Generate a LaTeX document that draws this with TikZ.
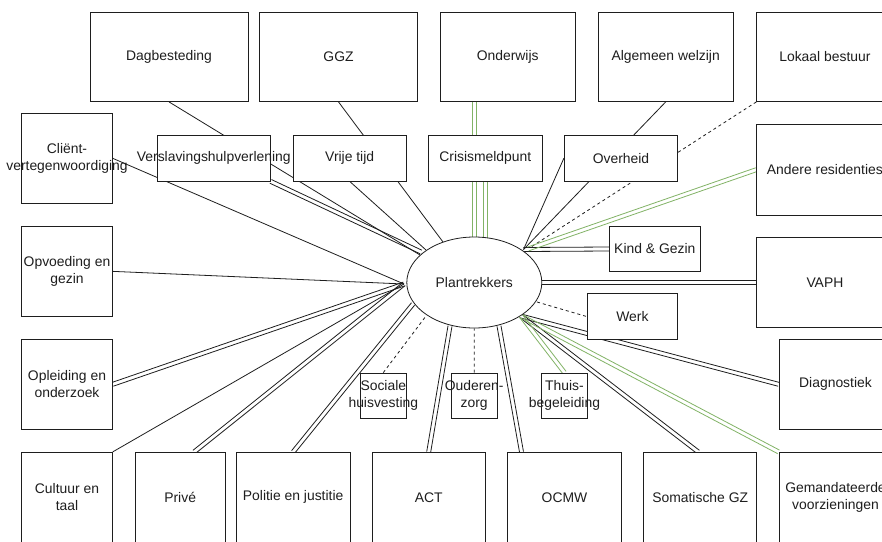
\documentclass[tikz,border=0pt]{standalone}
\usepackage{fontspec}
\setmainfont{Liberation Sans}
\usetikzlibrary{calc,shapes.geometric}
\definecolor{lgreen}{HTML}{82B366}
\definecolor{ink}{HTML}{1E1E1E}
\pgfdeclarelayer{bg}
\pgfdeclarelayer{paper}
\pgfsetlayers{paper,bg,main}
\newcommand\dlink[3][ln]{%
  \draw[#1] ($(#2)!2pt!90:(#3)$) -- ($(#3)!2pt!-90:(#2)$);
  \draw[#1] ($(#2)!2pt!-90:(#3)$) -- ($(#3)!2pt!90:(#2)$);}
\newcommand\boxnode[6]{%
  \node[bx, minimum width=#4pt, minimum height=#5pt] (#1) at (#2,#3) {};
  \node[txt] (#1t) at (#1.center) {#6};}
\begin{document}
\begin{tikzpicture}[x=1pt,y=-1pt,
  bx/.style={draw=ink, fill=white, line width=0.8pt, inner sep=0pt},
  txt/.style={font=\fontsize{13.9}{16.7}\selectfont, align=center, inner sep=0pt, text=ink},
  ln/.style={draw=ink, line width=0.8pt},
  dsh/.style={draw=ink, line width=0.8pt, dash pattern=on 3pt off 3pt},
  gln/.style={draw=lgreen, line width=0.8pt}]
\useasboundingbox (0,0) rectangle (882,541);
\begin{pgfonlayer}{paper}
\fill[white] (0,0) rectangle (882,541);
\end{pgfonlayer}
\clip (0,0) rectangle (882,541);

% top row
\boxnode{dag}{169}{56.75}{158}{89.5}{Dagbesteding}
\boxnode{ggz}{338.5}{56.75}{158.4}{89.5}{GGZ}
\boxnode{ond}{507.7}{56.75}{135.4}{89.5}{Onderwijs}
\boxnode{alg}{665.7}{56.75}{135.4}{89.5}{Algemeen welzijn}
\boxnode{lok}{824.9}{56.75}{136.3}{89.5}{Lokaal bestuur}
% second row
\boxnode{ver}{213.8}{158.15}{113}{45.7}{Verslavingshulpverlening}
\boxnode{vri}{349.7}{158.15}{113.3}{45.7}{Vrije tijd}
\boxnode{cri}{485.3}{158.15}{113.3}{45.7}{Crisismeldpunt}
\boxnode{ovh}{621}{158.15}{113.4}{45.7}{Overheid}
% left column
\boxnode{cli}{67}{158.3}{90.6}{90}{Cliënt-\\vertegenwoordiging}
\boxnode{opv}{67}{271.35}{90.6}{90.7}{Opvoeding en\\gezin}
\boxnode{opl}{67}{384.3}{90.6}{90}{Opleiding en\\onderzoek}
% bottom row
\boxnode{cul}{67}{497.3}{90.6}{90}{Cultuur en\\taal}
\boxnode{pri}{180.15}{497.3}{90.3}{90}{Privé}
\boxnode{pol}{293.15}{497.3}{113.7}{90}{Politie en justitie}
\boxnode{act}{428.7}{497.3}{113.5}{90}{ACT}
\boxnode{ocm}{564.5}{497.3}{113.6}{90}{OCMW}
\boxnode{som}{700.2}{497.3}{113}{90}{Somatische GZ}
\boxnode{gem}{835.5}{497.3}{113}{90}{Gemandateerde\\voorzieningen}
% right column
\boxnode{and}{824.9}{169.65}{136.3}{90.7}{Andere residenties}
\boxnode{vap}{824.9}{282.5}{136.3}{90.4}{VAPH}
\boxnode{dia}{835.5}{384.3}{113}{90}{Diagnostiek}
% small boxes
\boxnode{kin}{654.8}{249}{91}{45.4}{Kind \& Gezin}
\boxnode{wer}{632.35}{316.5}{90.7}{45.6}{Werk}
\boxnode{soc}{383.3}{395.5}{46}{45}{Sociale\\huisvesting}
\boxnode{oud}{474.15}{395.5}{45.7}{45}{Ouderen-\\zorg}
\boxnode{thu}{564.5}{395.5}{45.6}{45}{Thuis-\\begeleiding}
% centre
\node[bx, ellipse, minimum width=135pt, minimum height=91pt] (pl) at (474.3,282.5) {};
\node[txt] (plt) at (pl.center) {Plantrekkers};

% connector end points
\coordinate (eL) at (404,284);
\coordinate (eDag) at (420,255);
\coordinate (eGgz) at (443,242);
\coordinate (eVer) at (421,252);
\coordinate (eVri) at (426,250);
\coordinate (eOnd) at (474.2,237);
\coordinate (eCri) at (485.3,238);
\coordinate (eUR) at (523.5,249.5);
\coordinate (eAnd) at (528,249);
\coordinate (eLok) at (531,247);
\coordinate (ePol) at (413,304);
\coordinate (eSoc) at (426,316);
\coordinate (eAct) at (450,326);
\coordinate (eOcm) at (499,326);
\coordinate (eLR) at (521,316);
\coordinate (eWer) at (537,302);
\coordinate (ondS) at ([xshift=-33.5pt]ond.south);
\coordinate (priN) at ([xshift=14pt]pri.north);
\coordinate (ocmN) at ([xshift=-43pt]ocm.north);
\coordinate (somN) at ([xshift=-2pt]som.north);

\begin{pgfonlayer}{bg}
\draw[ln] (dag.south) -- (eDag);
\draw[ln] (ggz.south) -- (eGgz);
\dlink[gln]{ondS}{eOnd}
\dlink[gln]{cri.south}{eCri}
\dlink{ver.south east}{eVer}
\draw[ln] (vri.south) -- (eVri);
\draw[ln] (cli.east) -- (eL);
\draw[ln] (opv.east) -- (eL);
\dlink{opl.east}{eL}
\draw[ln] (cul.north east) -- (eL);
\dlink{priN}{eL}
\dlink{pol.north}{ePol}
\draw[dsh] (soc.north) -- (eSoc);
\dlink{act.north}{eAct}
\draw[dsh] (oud.north) -- (pl.south);
\dlink{ocmN}{eOcm}
\dlink{somN}{eLR}
\dlink{dia.west}{eLR}
\dlink[gln]{thu.north}{eLR}
\dlink[gln]{gem.north west}{eLR}
\draw[dsh] (eWer) -- (wer.west);
\dlink{pl.east}{vap.west}
\dlink{eUR}{kin.west}
\draw[dsh] (lok.south west) -- (eLok);
\draw[ln] (alg.south) -- (eUR);
\draw[ln] (ovh.west) -- (eUR);
\dlink[gln]{and.west}{eAnd}
\end{pgfonlayer}
\end{tikzpicture}
\end{document}
